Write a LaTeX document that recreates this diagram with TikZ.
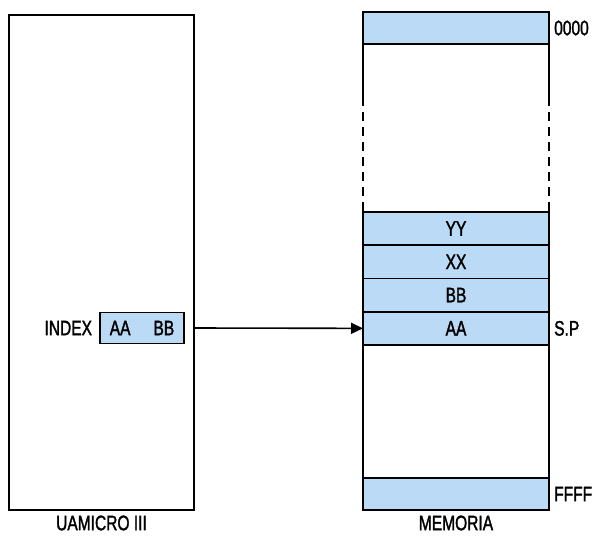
\documentclass[tikz,border=0pt]{standalone}
\usepackage{fontspec}
\setmainfont[FakeStretch=0.74, FakeBold=1.5]{Liberation Sans}
\usepackage{xcolor}
\usepackage{tikz}
\usetikzlibrary{arrows.meta, positioning}

\definecolor{memblue}{RGB}{186,218,245}

\begin{document}
\begin{tikzpicture}[
  x=1pt, y=-1pt,
  font=\fontsize{21}{23}\selectfont,
  unit/.style={rectangle, draw=black, line width=1.6pt, inner sep=0pt},
  cell/.style={rectangle, draw=black, line width=1.6pt, fill=memblue, outer sep=0pt,
               minimum width=186pt, minimum height=33.25pt, inner sep=0pt},
  tag/.style={inner sep=0pt, anchor=west},
  side/.style={line width=1.6pt},
  arr/.style={-{Triangle[length=12pt, width=11pt]}, line width=1.6pt}
]
\useasboundingbox (0,0) rectangle (599,538);

% microprocessor
\node[unit, minimum width=185pt, minimum height=495pt] (cpu) at (101.5,262.5) {};
\node[inner sep=0pt] (cpuname) at (101.5,523) {UAMICRO III};
\node[unit, fill=memblue, minimum width=84pt, minimum height=31pt] (index) at (142,328) {AA\hspace{23pt}BB};
\node[inner sep=0pt, left=7pt of index] (indexname) {INDEX};

% memory
\node[cell, minimum height=32pt] (m0) at (456,28) {};
\node[cell] (yy) at (456,228.6) {YY};
\node[cell, below=0pt of yy] (xx) {XX};
\node[cell, below=0pt of xx] (bb) {BB};
\node[cell, below=0pt of bb] (aa) {AA};
\node[cell, minimum height=32pt] (mf) at (456,494) {};
\node[inner sep=0pt] (memname) at (456,523) {MEMORIA};

\draw[side] (m0.south west) -- ++(0,53) coordinate (lbreak);
\draw[side, dash pattern=on 9pt off 6pt] (lbreak) -- ++(0,108) coordinate (lresume);
\draw[side] (lresume) -- (yy.north west);
\draw[side] (m0.south east) -- ++(0,53) coordinate (rbreak);
\draw[side, dash pattern=on 9pt off 6pt] (rbreak) -- ++(0,108) coordinate (rresume);
\draw[side] (rresume) -- (yy.north east);
\draw[side] (aa.south west) -- (mf.north west);
\draw[side] (aa.south east) -- (mf.north east);

\node[tag, right=5pt of m0] (addr0) {0000};
\node[tag, right=5pt of aa] (sp) {S.P};
\node[tag, right=5pt of mf] (addrf) {FFFF};

\draw[arr] (index.east -| cpu.east) -- (aa.west);

\end{tikzpicture}
\end{document}
